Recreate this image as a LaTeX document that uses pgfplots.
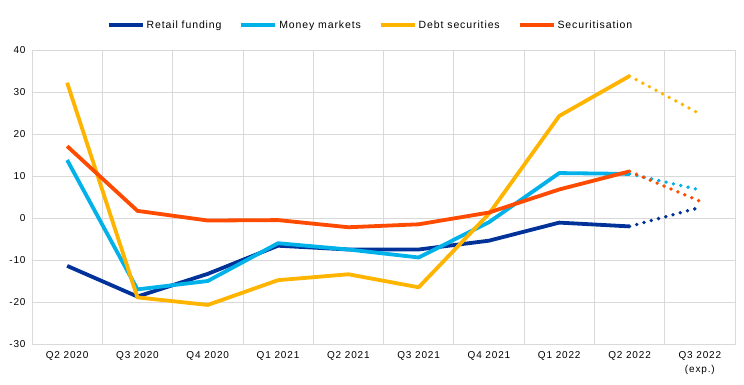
\documentclass[border=0pt]{standalone}
\usepackage{pgfplots}
\pgfplotsset{compat=1.18}
\usepackage{fontspec}
\setmainfont{Liberation Sans}
\newfontfamily\spacedfont[LetterSpace=8.5]{Liberation Sans}
\definecolor{retail}{HTML}{003299}
\definecolor{money}{HTML}{00B1EA}
\definecolor{debt}{HTML}{FFB400}
\definecolor{secur}{HTML}{FF4B00}
\definecolor{gridgray}{HTML}{D9D9D9}
\begin{document}
\begin{tikzpicture}[x=1bp,y=1bp]
\useasboundingbox (0,0) rectangle (744,384);
\begin{axis}[
  at={(32bp,40bp)}, anchor=south west,
  scale only axis, width=703bp, height=294bp,
  xmin=-0.5, xmax=9.5, ymin=-30, ymax=40,
  xtick={0,1,2,3,4,5,6,7,8,9},
  xticklabels={Q2 2020,Q3 2020,Q4 2020,Q1 2021,Q2 2021,Q3 2021,Q4 2021,Q1 2022,Q2 2022,{Q3 2022\\(exp.)}},
  minor xtick={-0.5,0.5,1.5,2.5,3.5,4.5,5.5,6.5,7.5,8.5,9.5},
  ytick={-30,-20,-10,0,10,20,30,40},
  xminorgrids=true, xmajorgrids=false, ymajorgrids=true,
  grid style={draw=gridgray, line width=0.8bp},
  minor grid style={draw=gridgray, line width=0.8bp},
  axis line style={draw=gridgray, line width=0.8bp},
  major tick length=0pt, minor tick length=0pt,
  tick label style={font=\spacedfont\fontsize{10bp}{14bp}\selectfont, text=black},
  xticklabel style={align=center, anchor=north, yshift=-4bp},
  yticklabel style={anchor=east, xshift=-3bp},
  /pgf/number format/assume math mode=true,
  legend columns=4,
  legend cell align=left,
  legend style={at={(0.5,1)}, anchor=center, yshift=25bp, xshift=-13bp,
    draw=none, fill=none, font=\spacedfont\fontsize{10.5bp}{12bp}\selectfont,
    /tikz/every even column/.append style={column sep=16bp}},
  legend image code/.code={\draw[line width=3.8bp] (0bp,0bp) -- (34bp,0bp);},
  every axis plot/.append style={line width=3.8bp, line join=round, mark=none},
]
\addplot[retail] coordinates {(0,-11.4) (1,-18.7) (2,-13.3) (3,-6.6) (4,-7.5) (5,-7.5) (6,-5.4) (7,-1.1) (8,-2.0)};
\addlegendentry{Retail funding}
\addplot[money] coordinates {(0,13.8) (1,-17.0) (2,-15.0) (3,-6.0) (4,-7.5) (5,-9.4) (6,-1.0) (7,10.7) (8,10.5)};
\addlegendentry{Money markets}
\addplot[debt] coordinates {(0,32.2) (1,-18.9) (2,-20.7) (3,-14.8) (4,-13.4) (5,-16.5) (6,1.0) (7,24.3) (8,33.8)};
\addlegendentry{Debt securities}
\addplot[secur] coordinates {(0,17.1) (1,1.7) (2,-0.6) (3,-0.5) (4,-2.2) (5,-1.5) (6,1.3) (7,6.8) (8,11.1)};
\addlegendentry{Securitisation}
\addplot[retail, forget plot, line cap=round, dash pattern=on 0bp off 7.5bp] coordinates {(8,-2.0) (9,2.5)};
\addplot[money, forget plot, line cap=round, dash pattern=on 0bp off 7.5bp] coordinates {(8,10.5) (9,6.7)};
\addplot[debt, forget plot, line cap=round, dash pattern=on 0bp off 7.5bp] coordinates {(8,33.8) (9,24.8)};
\addplot[secur, forget plot, line cap=round, dash pattern=on 0bp off 7.5bp] coordinates {(8,11.1) (9,4.0)};
\end{axis}
\end{tikzpicture}
\end{document}
